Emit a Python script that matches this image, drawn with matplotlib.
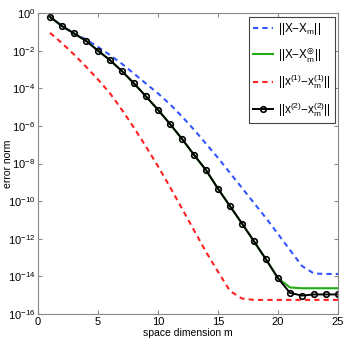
import numpy as np
import matplotlib
matplotlib.use("Agg")
import matplotlib.pyplot as plt

m = np.arange(1, 26)
log_blue = [-0.2, -0.69, -1.08, -1.4, -1.8, -2.23, -2.7, -3.22, -3.75, -4.27, -4.85, -5.5,
            -6.2, -6.95, -7.7, -8.5, -9.3, -10.1, -10.9, -11.75, -12.6, -13.45, -13.85,
            -13.87, -13.87]
log_black = [-0.2, -0.69, -1.08, -1.47, -2.0, -2.5, -3.09, -3.74, -4.43, -5.14, -5.9, -6.69,
             -7.54, -8.35, -9.34, -10.27, -11.19, -12.14, -13.1, -14.1, -14.88, -15.02,
             -14.96, -14.96, -14.96]
log_green = log_black[:20] + [-14.59, -14.63, -14.63, -14.63, -14.63]
log_red = [-1.05, -1.6, -2.2, -2.85, -3.53, -4.27, -5.15, -6.1, -7.1, -8.15, -9.25, -10.4,
           -11.55, -12.7, -13.75, -14.78, -15.18, -15.25, -15.25, -15.25, -15.25, -15.25,
           -15.25, -15.25, -15.25]

labels = [r'$||X{-}X_m||$', r'$||X{-}X_m^{\circledast}||$',
          r'$||x^{(1)}{-}x_m^{(1)}||$', r'$||x^{(2)}{-}x_m^{(2)}||$']

plt.rcParams['font.family'] = ['Liberation Sans', 'DejaVu Sans']
plt.rcParams['mathtext.fontset'] = 'custom'
plt.rcParams['mathtext.rm'] = 'Liberation Sans'
plt.rcParams['mathtext.it'] = 'Liberation Sans'
plt.rcParams['mathtext.default'] = 'regular'

fig = plt.figure(figsize=(3.46, 3.46), dpi=100)
ax = fig.add_axes([0.11, 0.0925, 0.867, 0.8695])

dash = (2.5, 2.0)
ax.semilogy(m, 10.0 ** np.array(log_blue), '--', dashes=dash, color='#3355ff', lw=1.5,
            label=labels[0])
ax.semilogy(m, 10.0 ** np.array(log_green), '-', color='#22aa11', lw=1.5, label=labels[1])
ax.semilogy(m, 10.0 ** np.array(log_red), '--', dashes=dash, color='#ff2020', lw=1.5,
            label=labels[2])
ax.semilogy(m, 10.0 ** np.array(log_black), '-', color='black', lw=1.4, marker='o',
            ms=4, mfc='none', mew=1.2, label=labels[3])

ax.set_xlim(0, 25)
ax.set_ylim(1e-16, 1e0)
ax.set_xticks([0, 5, 10, 15, 20, 25])
ax.set_yticks([10.0 ** k for k in range(-16, 1, 2)])
ax.minorticks_off()
ax.tick_params(direction='in', top=True, right=True, labelsize=8, length=3,
               color='#888888', width=0.8, pad=2)
for s in ax.spines.values():
    s.set_color('#888888')
ax.set_xlabel('space dimension m', fontsize=7.5, labelpad=1)
ax.set_ylabel('error norm', fontsize=7.5)
ax.yaxis.set_label_coords(-0.083, 0.5)

leg = ax.legend(loc='upper right', fontsize=8.5, handlelength=1.7, handletextpad=0.4,
                borderpad=0.35, labelspacing=0.75, fancybox=False, framealpha=1,
                borderaxespad=0.3)
leg.get_frame().set_edgecolor('#444444')
leg.get_frame().set_linewidth(0.8)

fig.savefig('out.png', dpi=100)
